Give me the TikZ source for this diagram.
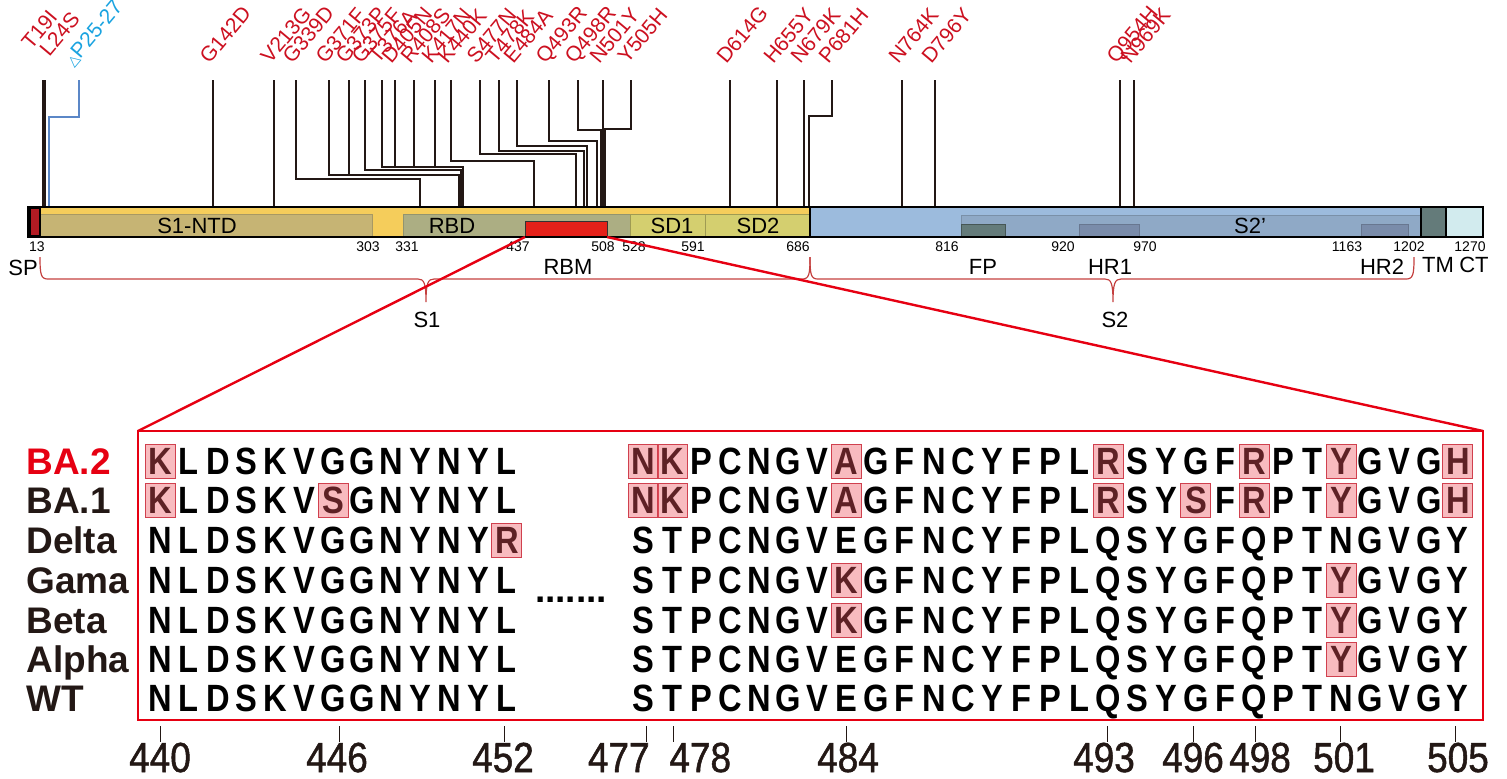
\documentclass[tikz,border=0pt]{standalone}
\usepackage{fontspec}
\setmainfont{Liberation Sans}
\newfontfamily\seqfont[FakeStretch=0.86]{Liberation Sans}
\newfontfamily\numfont[FakeStretch=0.88, FakeBold=1.2]{Liberation Sans}
\newfontfamily\symfont{DejaVu Sans}
\usepackage{xcolor}

\definecolor{mutred}{HTML}{CC1020}
\definecolor{delblue}{HTML}{1AA3E0}
\definecolor{leadblue}{HTML}{5B87C7}
\definecolor{inkdark}{HTML}{231815}
\definecolor{s1yellow}{HTML}{F5CD5B}
\definecolor{ntdtan}{HTML}{C6B474}
\definecolor{rbdgreen}{HTML}{ACAE83}
\definecolor{sdgreen}{HTML}{D4CF6F}
\definecolor{rbmred}{HTML}{E42119}
\definecolor{spred}{HTML}{B31B23}
\definecolor{s2blue}{HTML}{9CBBDD}
\definecolor{s2pblue}{HTML}{8FA9C6}
\definecolor{fpgray}{HTML}{647B7A}
\definecolor{hrblue}{HTML}{7A8CAA}
\definecolor{ctcyan}{HTML}{D2EBEE}
\definecolor{bracered}{HTML}{C4403F}
\definecolor{framered}{HTML}{E60012}
\definecolor{hlpink}{HTML}{ED545E}
\definecolor{hledge}{HTML}{D0404E}

% one row of the alignment: name, y, residues 440-452, residues 477-505
\newcommand{\seqrow}[4]{%
  \foreach \c [count=\i from 0] in {#3}
    \node[res] (#1a\i) at ({160+28.9*\i}, #2) {\c};
  \foreach \c [count=\i from 0] in {#4}
    \node[res] (#1b\i) at ({643+29.1*\i}, #2) {\c};
}

\begin{document}
\begin{tikzpicture}[x=0.5pt, y=-0.5pt,
    lead/.style={draw=inkdark, line width=0.6pt},
    mut/.style={text=mutred, font=\fontsize{10.5}{10.5}\selectfont,
                inner sep=0pt, anchor=base west, rotate=50},
    bar/.style={draw=black, line width=1pt},
    sub/.style={line width=0.5pt},
    dlbl/.style={font=\fontsize{11}{11}\selectfont, inner sep=0pt},
    num/.style={font=\fontsize{7}{7}\selectfont, inner sep=0pt},
    brc/.style={draw=bracered, line width=0.6pt},
    zoomline/.style={draw=framered, line width=1.2pt},
    res/.style={font=\seqfont\bfseries\fontsize{19}{19}\selectfont,
                inner sep=0pt, text height=13.6pt, text depth=0pt},
    hl/.style={draw=hledge, line width=0.5pt, fill=hlpink, fill opacity=0.4,
               minimum width=15pt, minimum height=17pt, inner sep=0pt},
    varlbl/.style={font=\bfseries\fontsize{18.5}{18.5}\selectfont,
                   inner sep=0pt, anchor=base west},
    posnum/.style={font=\numfont\fontsize{21}{21}\selectfont, text=inkdark,
                   inner sep=0pt, anchor=base},
    tick/.style={draw=inkdark, line width=0.5pt}
  ]
  \useasboundingbox (0,0) rectangle (1507,778);

  % ---- mutation labels and leaders ----
  \node[mut] (mT19I) at (31,51) {T19I};
  \node[mut] (mL24S) at (49,58) {L24S};
  \node[mut, text=delblue] (mdel) at (73,68)
    {{\symfont\fontsize{7}{7}\selectfont △}P25-27};
  \draw[lead] (43,80) -- (43,207);
  \draw[lead] (45,80) -- (45,207);
  \draw[lead, draw=leadblue] (79,80) -- (79,117) -- (49,117) -- (49,207);

  \foreach \lab/\xt/\yt/\xb in {G142D/213/207/213, V213G/274/207/274,
      G339D/296/179/420, G371F/329/175/459, G373P/349/175/459,
      G375F/365/170/461, T376A/382/167/463, D405N/395/167/463,
      R408S/414/167/463, K417N/435/167/463, K440K/451/161/534,
      S477N/480/154/576, T478K/499/151/584, E484A/517/146/587,
      Q493R/549/141/597, Q498R/578/130/601, N501Y/603/207/603,
      Y505H/631/129/605, D614G/730/207/730, H655Y/777/207/777,
      N679K/804/207/804, P681H/832/116/809, N764K/902/207/902,
      D796Y/935/207/935, Q954H/1120/207/1120, N969K/1134/207/1134} {
    \node[mut] (m\lab) at (\xt-4,65) {\lab};
    \draw[lead] (\xt,80) -- (\xt,\yt) -- (\xb,\yt) -- (\xb,207);
  }

  % ---- domain bar ----
  \draw[bar, fill=s1yellow] (28,207) rectangle (810,237);
  \draw[sub, fill=ntdtan, draw=ntdtan!85!black] (40,214) rectangle (372,237);
  \draw[sub, fill=rbdgreen, draw=rbdgreen!85!black] (403,214) rectangle (630,237);
  \draw[sub, fill=sdgreen, draw=sdgreen!75!black] (630,214) rectangle (705,237);
  \draw[sub, fill=sdgreen, draw=sdgreen!75!black] (705,214) rectangle (810,237);
  \draw[sub, fill=rbmred, draw=black!80] (525,221) rectangle (607,237);
  \draw[bar, fill=s2blue] (810,207) rectangle (1421,237);
  \draw[sub, fill=s2pblue, draw=s2pblue!85!black] (961,215) rectangle (1421,237);
  \draw[sub, fill=fpgray, draw=fpgray!70!black] (961,224) rectangle (1005,237);
  \draw[sub, fill=hrblue, draw=hrblue!85!black] (1079,224) rectangle (1139,237);
  \draw[sub, fill=hrblue, draw=hrblue!85!black] (1361,224) rectangle (1408,237);
  \draw[bar, fill=fpgray] (1421,207) rectangle (1446,237);
  \draw[bar, fill=ctcyan] (1446,207) rectangle (1483,237);
  \draw[bar, fill=black] (28,207) rectangle (40,237);
  \fill[spred] (31,209) rectangle (38.5,235);
  \draw[bar] (28,207) rectangle (1483,237);
  \draw[bar] (810,207) -- (810,237);
  \coordinate (rbmL) at (525,237);
  \coordinate (rbmR) at (607,237);

  \node[dlbl] (lntd) at (197,226) {S1-NTD};
  \node[dlbl] (lrbd) at (452,226) {RBD};
  \node[dlbl] (lsd1) at (672,226) {SD1};
  \node[dlbl] (lsd2) at (758,226) {SD2};
  \node[dlbl] (ls2p) at (1250,226) {S2’};

  \foreach \n/\x in {13/37, 303/368, 331/407, 437/518, 508/603, 528/634,
      591/693, 686/798, 816/947, 920/1063, 970/1145, 1163/1347,
      1202/1409, 1270/1470}
    \node[num] (n\n) at (\x,247) {\n};

  \node[dlbl] (lsp) at (23,268) {SP};
  \node[dlbl] (lrbm) at (568,267) {RBM};
  \node[dlbl] (lfp) at (983,267) {FP};
  \node[dlbl] (lhr1) at (1110,267) {HR1};
  \node[dlbl] (lhr2) at (1382,267) {HR2};
  \node[dlbl] (ltm) at (1438,265) {TM};
  \node[dlbl] (lct) at (1474,265) {CT};

  % ---- S1 / S2 braces ----
  \draw[brc] (40,257) .. controls (40,275) and (41,279) .. (48,279)
    -- (418,279) .. controls (424,279) and (426,283) .. (426,302)
    .. controls (426,283) and (428,279) .. (434,279)
    -- (802,279) .. controls (809,279) and (810,275) .. (810,257);
  \draw[brc] (810,257) .. controls (810,275) and (811,279) .. (818,279)
    -- (1105,279) .. controls (1111,279) and (1113,283) .. (1113,302)
    .. controls (1113,283) and (1115,279) .. (1121,279)
    -- (1406,279) .. controls (1413,279) and (1414,275) .. (1414,257);
  \node[dlbl] (ls1) at (427,320) {S1};
  \node[dlbl] (ls2) at (1115,320) {S2};

  % ---- zoom onto the RBM ----
  \draw[zoomline] (138,431) rectangle (1483,720);
  \coordinate (frameL) at (138,431);
  \coordinate (frameR) at (1483,431);
  \draw[zoomline] (rbmL) -- (frameL);
  \draw[zoomline] (rbmR) -- (frameR);

  % ---- alignment ----
  \foreach \v/\y/\col in {BA.2/461/framered, BA.1/500/inkdark,
      Delta/540/inkdark, Gama/580/inkdark, Beta/620/inkdark,
      Alpha/659/inkdark, WT/698/inkdark}
    \node[varlbl, text=\col] (v\y) at (26,\y+13) {\v};

  \seqrow{ba2}{461}{K,L,D,S,K,V,G,G,N,Y,N,Y,L}
    {N,K,P,C,N,G,V,A,G,F,N,C,Y,F,P,L,R,S,Y,G,F,R,P,T,Y,G,V,G,H}
  \seqrow{ba1}{500}{K,L,D,S,K,V,S,G,N,Y,N,Y,L}
    {N,K,P,C,N,G,V,A,G,F,N,C,Y,F,P,L,R,S,Y,S,F,R,P,T,Y,G,V,G,H}
  \seqrow{delta}{540}{N,L,D,S,K,V,G,G,N,Y,N,Y,R}
    {S,T,P,C,N,G,V,E,G,F,N,C,Y,F,P,L,Q,S,Y,G,F,Q,P,T,N,G,V,G,Y}
  \seqrow{gama}{580}{N,L,D,S,K,V,G,G,N,Y,N,Y,L}
    {S,T,P,C,N,G,V,K,G,F,N,C,Y,F,P,L,Q,S,Y,G,F,Q,P,T,Y,G,V,G,Y}
  \seqrow{beta}{620}{N,L,D,S,K,V,G,G,N,Y,N,Y,L}
    {S,T,P,C,N,G,V,K,G,F,N,C,Y,F,P,L,Q,S,Y,G,F,Q,P,T,Y,G,V,G,Y}
  \seqrow{alpha}{659}{N,L,D,S,K,V,G,G,N,Y,N,Y,L}
    {S,T,P,C,N,G,V,E,G,F,N,C,Y,F,P,L,Q,S,Y,G,F,Q,P,T,Y,G,V,G,Y}
  \seqrow{wt}{698}{N,L,D,S,K,V,G,G,N,Y,N,Y,L}
    {S,T,P,C,N,G,V,E,G,F,N,C,Y,F,P,L,Q,S,Y,G,F,Q,P,T,N,G,V,G,Y}

  \foreach \n in {ba2a0, ba2b0, ba2b1, ba2b7, ba2b16, ba2b21, ba2b24, ba2b28,
      ba1a0, ba1a6, ba1b0, ba1b1, ba1b7, ba1b16, ba1b19, ba1b21, ba1b24, ba1b28,
      deltaa12, gamab7, gamab24, betab7, betab24, alphab24}
    \node[hl] (h\n) at (\n) {};

  \node[font=\bfseries\fontsize{18.5}{18.5}\selectfont, inner sep=0pt,
        anchor=base] (gap) at (571,602) {.......};

  % ---- residue numbers ----
  \foreach \x in {160, 339, 504, 646, 673, 846, 1107, 1193, 1255, 1340, 1455}
    \draw[tick] (\x,726) -- (\x,742);
  \foreach \p/\x in {440/160, 446/337, 452/503, 484/848, 493/1104,
      496/1193, 498/1260, 501/1344, 505/1458}
    \node[posnum] (p\p) at (\x,772) {\p};
  \node[posnum, anchor=base east] (p477) at (650,772) {477};
  \node[posnum, anchor=base west] (p478) at (669,772) {478};
\end{tikzpicture}
\end{document}
